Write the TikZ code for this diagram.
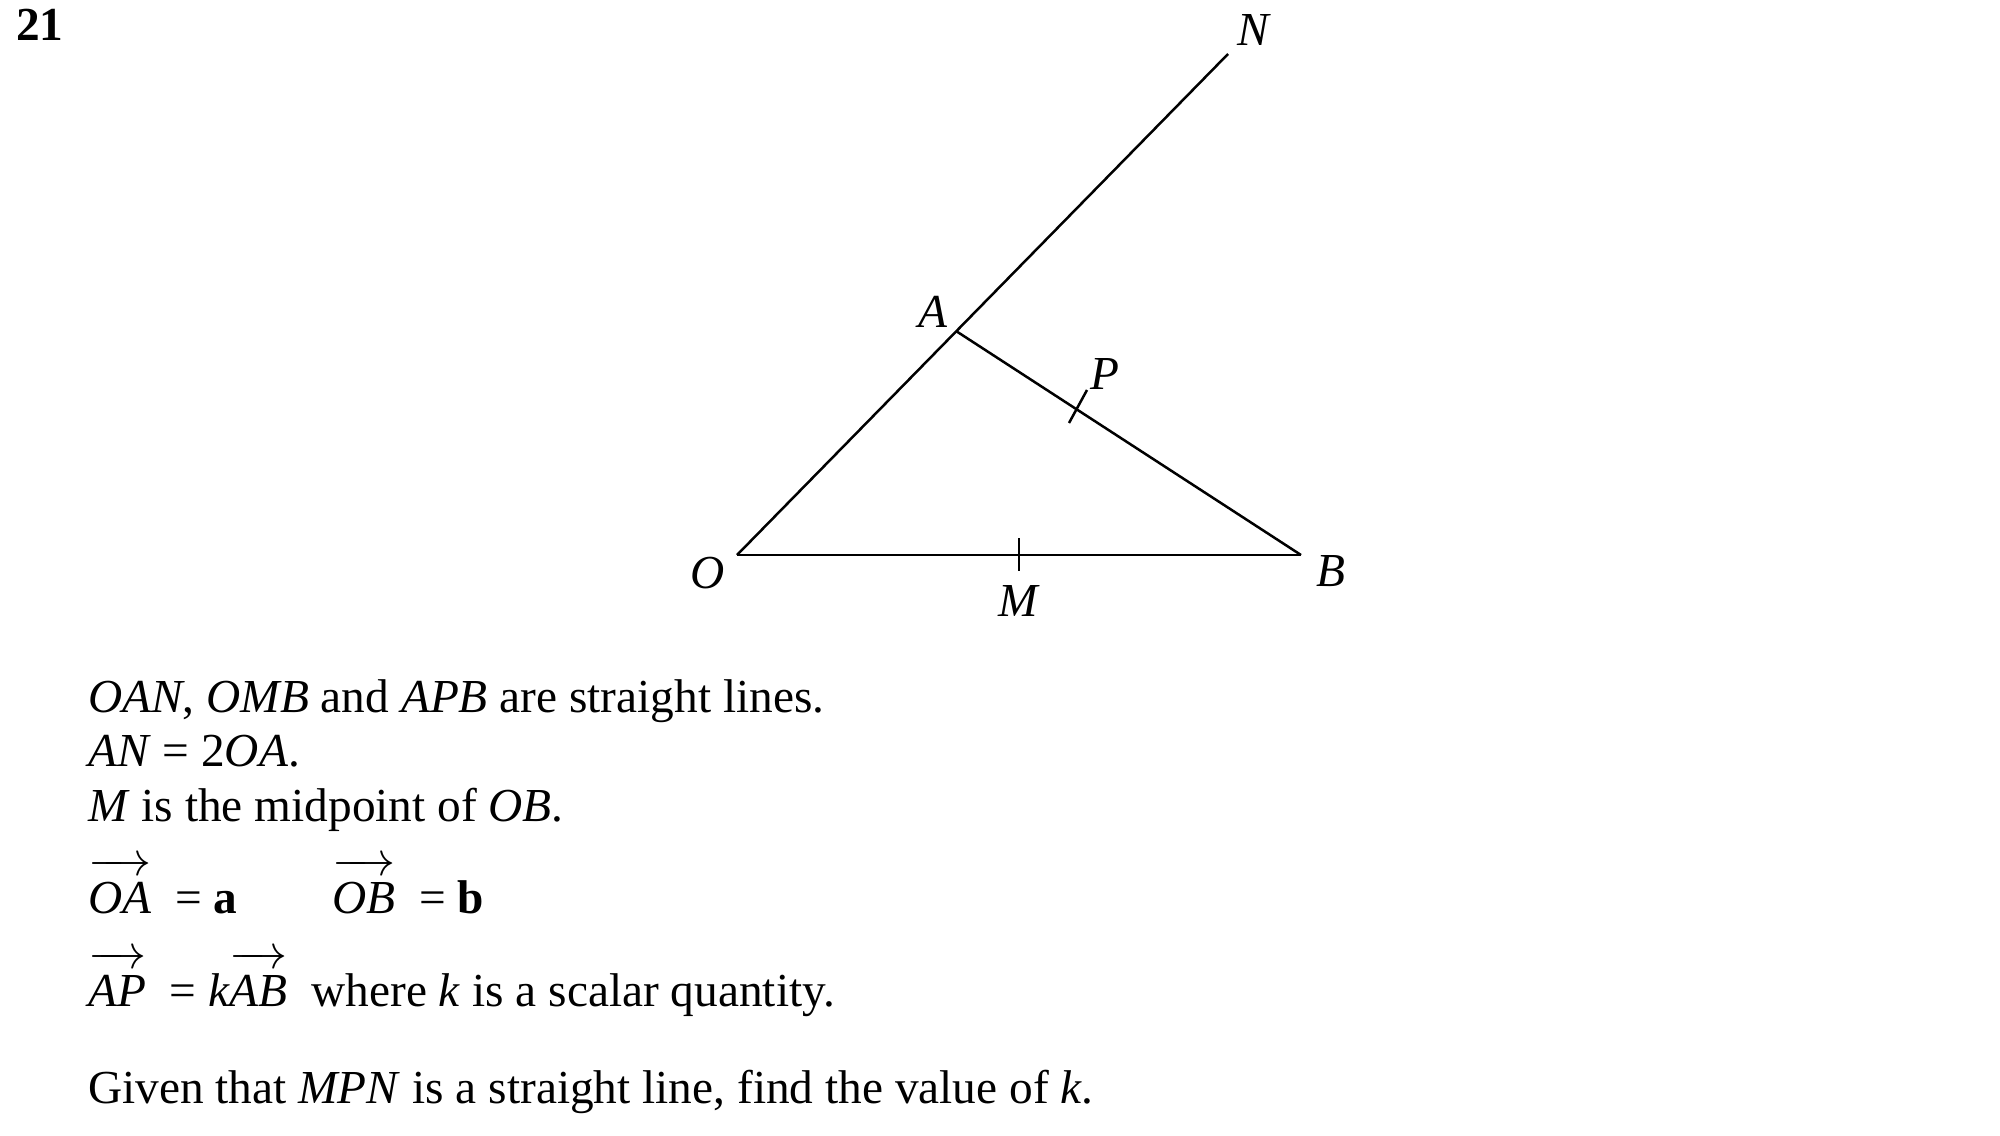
\documentclass[tikz,border=0pt]{standalone}
\usepackage{amsmath}
\usepackage{fontspec}
\setmainfont{Liberation Serif}
\newcommand{\vecto}[1]{$\overrightarrow{\textit{#1}\rule{0pt}{0.8em}}$}
\tikzset{lbl/.style={font=\fontsize{14.2}{17}\selectfont\itshape, inner sep=0pt},
         txt/.style={font=\fontsize{14.2}{17}\selectfont, inner sep=0pt, anchor=base west}}

\begin{document}
\begin{tikzpicture}[x=0.3pt,y=-0.3pt,line width=0.75pt]
  \useasboundingbox (0,0) rectangle (2000,1135);
  % points
  \coordinate (O) at (737,555);
  \coordinate (B) at (1301,555);
  \coordinate (A) at (956,331);
  \coordinate (N) at (1228,54);
  \coordinate (M) at (1019,555);
  \coordinate (Mtop) at (1019,538);
  \coordinate (Mbot) at (1019,571);
  \coordinate (Ptop) at (1087,390);
  \coordinate (Pbot) at (1069,423);

  % basics
  \draw (O) -- (N);
  \draw (O) -- (B);
  \draw (A) -- (B);
  \draw (Mtop) -- (Mbot);
  \draw (Ptop) -- (Pbot);

  % labels
  \node[lbl] (labN) at (1253,30) {N};
  \node[lbl] (labA) at (933,312) {A};
  \node[lbl] (labP) at (1105,374) {P};
  \node[lbl] (labO) at (708,573) {O};
  \node[lbl] (labB) at (1331,571) {B};
  \node[lbl] (labM) at (1018,601) {M};

  % question text
  \node[txt, font=\fontsize{14.2}{17}\selectfont\bfseries] (num) at (15,41) {21};
  \node[txt] (line1) at (87,712) {\textit{OAN}, \textit{OMB} and \textit{APB} are straight lines.};
  \node[txt] (line2) at (87,766) {\textit{AN} = 2\textit{OA}.};
  \node[txt] (line3) at (87,821) {\textit{M} is the midpoint of \textit{OB}.};
  \node[txt] (line4a) at (87,913) {\vecto{OA}\ \ =\ \textbf{a}};
  \node[txt] (line4b) at (331,913) {\vecto{OB}\ \ =\ \textbf{b}};
  \node[txt] (line5) at (87,1006) {\vecto{AP}\ \ =\ \textit{k}\vecto{AB}\ \ where \textit{k} is a scalar quantity.};
  \node[txt] (line6) at (87,1103) {Given that \textit{MPN} is a straight line, find the value of \textit{k}.};
\end{tikzpicture}
\end{document}
